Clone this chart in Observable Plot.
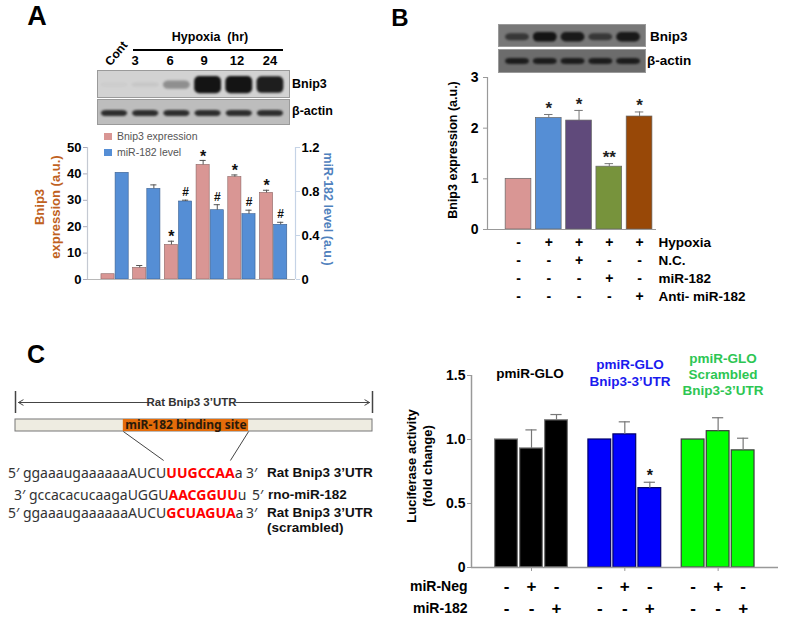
<!DOCTYPE html>
<html><head><meta charset="utf-8">
<script src="https://cdn.jsdelivr.net/npm/d3@7"></script>
<script src="https://cdn.jsdelivr.net/npm/@observablehq/plot@0.6"></script>
<style>
html,body{margin:0;padding:0;background:#fff;}
#fig{position:relative;width:787px;height:622px;overflow:hidden;background:#fff;}
</style></head>
<body><div id="fig"></div>
<script>
// ---------------- DATA ----------------
// Panel A
const hypoxiaHours = ["Cont", "3", "6", "9", "12", "24"];
const bnip3Expr   = [2.0, 4.4, 13.1, 43.4, 38.8, 32.8];
const bnip3Err    = [0, 0.9, 1.4, 1.7, 0.8, 1.0];
const mir182Level = [0.97, 0.824, 0.709, 0.63, 0.594, 0.497];
const mir182Err   = [0, 0.036, 0.012, 0.05, 0.036, 0.023];
const bnip3Sig    = ["", "", "*", "*", "*", "*"];
const mir182Sig   = ["", "", "#", "#", "#", "#"];
const leftTicksA  = [0, 10, 20, 30, 40, 50];
const rightTicksA = [0, 0.4, 0.8, 1.2];
const blotABnip3  = [0.03, 0.06, 0.35, 1, 1, 0.95];
const blotAActin  = [0.85, 0.85, 0.85, 0.85, 0.85, 0.85];
// Panel B
const condB     = ["Normoxia", "Hypoxia", "Hypoxia+N.C.", "Hypoxia+miR-182", "Hypoxia+Anti-miR-182"];
const bnip3B    = [1.0, 2.2, 2.15, 1.24, 2.23];
const bnip3BErr = [0, 0.07, 0.2, 0.06, 0.09];
const sigB      = ["", "*", "*", "**", "*"];
const ticksB    = [0, 1, 2, 3];
const rowsB     = ["Hypoxia", "N.C.", "miR-182", "Anti- miR-182"];
const hypoxiaB  = ["-", "+", "+", "+", "+"];
const ncB       = ["-", "-", "+", "-", "-"];
const mirB      = ["-", "-", "-", "+", "-"];
const antiB     = ["-", "-", "-", "-", "+"];
const blotBBnip3 = [0.65, 1, 0.95, 0.65, 0.95];
const blotBActin = [0.9, 0.9, 0.9, 0.9, 0.9];
// Panel C
const constructs = ["pmiR-GLO", "pmiR-GLO Bnip3-3’UTR", "pmiR-GLO Scrambled Bnip3-3’UTR"];
const treatments = ["Control", "miR-Neg", "miR-182"];
const lucControl = [1.0, 1.0, 1.0];
const lucMiRNeg  = [0.93, 1.04, 1.065];
const lucMiR182  = [1.15, 0.62, 0.915];
const errControl = [0, 0, 0];
const errMiRNeg  = [0.145, 0.098, 0.105];
const errMiR182  = [0.045, 0.046, 0.095];
const sigMiR182  = ["", "*", ""];
const ticksC     = [0, 0.5, 1.0, 1.5];
const rowsC      = ["miR-Neg", "miR-182"];
const miRNegRow  = ["-", "+", "-"];
const miR182Row  = ["-", "-", "+"];
const utrExtent  = [0, 1];
const siteExtent = [0.302, 0.653];
const siteToSeq  = [0.415, 0.602];
const seqUTR     = ["ggaaaugaaaaaaAUCU", "UUGCCAA", "a"];
const seqMiR     = ["gccacacucaagaUGGU", "AACGGUU", "u"];
const seqScr     = ["ggaaaugaaaaaaAUCU", "GCUAGUA", "a"];

// ---------------- HELPERS ----------------
const fig = document.getElementById("fig");
const FONT = '"Liberation Sans", Arial, sans-serif';
const PSTYLE = {fontFamily: FONT, fontSize: "13px", fontWeight: "bold", background: "transparent", overflow: "visible", color: "#000"};
function put(node, left, top) {
  node.style.position = "absolute"; node.style.left = left + "px"; node.style.top = top + "px";
  fig.appendChild(node); return node;
}
function txt(html, x, y, o = {}) {
  const d = document.createElement("div");
  d.innerHTML = html;
  const a = o.anchor || "middle";
  const tx = a === "start" ? "0" : a === "end" ? "-100%" : "-50%";
  Object.assign(d.style, {
    position: "absolute", left: x + "px", top: y + "px", whiteSpace: "nowrap",
    transform: `translate(${tx},-50%)` + (o.rot ? ` rotate(${o.rot}deg)` : ""),
    fontFamily: o.font || FONT, fontWeight: o.weight || "bold", fontSize: (o.size || 13) + "px",
    color: o.color || "#000", lineHeight: String(o.lh || 1.15), textAlign: "center", letterSpacing: (o.ls || 0) + "px"
  });
  fig.appendChild(d); return d;
}
function blot(values, {left, top, width, height, xDomain, bg, cy, h0, h1, halfW}) {
  const data = values.map((v, i) => ({i, v}));
  const svg = Plot.plot({
    width, height, margin: 0, style: PSTYLE,
    x: {domain: xDomain, axis: null}, y: {domain: [0, 1], axis: null},
    marks: [
      Plot.frame({fill: bg, stroke: "#9a9a9a"}),
      Plot.rect(data, {x1: d => d.i - halfW, x2: d => d.i + halfW,
        y1: d => cy - (h0 + h1 * d.v), y2: d => cy + (h0 + h1 * d.v),
        fill: "#141414", fillOpacity: d => d.v, rx: 5, imageFilter: "blur(0.8px)"})
    ]
  });
  return put(svg, left, top);
}

// ---------------- PANEL A ----------------
txt("A", 37, 17, {size: 27});
blot(blotABnip3, {left: 97, top: 70, width: 192, height: 27, xDomain: [-0.545, 5.61], bg: "#d2d2d2", cy: 0.46, h0: 0.06, h1: 0.26, halfW: 0.43});
blot(blotAActin, {left: 97, top: 99, width: 192, height: 25, xDomain: [-0.545, 5.61], bg: "#bdbdbd", cy: 0.44, h0: 0.02, h1: 0.12, halfW: 0.42});
txt("Hypoxia&nbsp; (hr)", 210, 37, {size: 12.5});
const lineA = document.createElement("div");
Object.assign(lineA.style, {position: "absolute", left: "133px", top: "49px", width: "150px", height: "2px", background: "#000"});
fig.appendChild(lineA);
txt(hypoxiaHours[0], 117, 54, {size: 12, rot: -50});
[135, 170, 204, 237, 270].forEach((x, k) => txt(hypoxiaHours[k + 1], x, 61, {size: 13}));
txt("Bnip3", 292, 84, {anchor: "start", size: 12.5});
txt("β-actin", 292, 111, {anchor: "start", size: 12.5});

// legend
[["Bnip3 expression", "#d99694", 136], ["miR-182 level", "#558ed5", 152]].forEach(([t, c, y]) => {
  const sq = document.createElement("div");
  Object.assign(sq.style, {position: "absolute", left: "104px", top: (y - 3.5) + "px", width: "8px", height: "7px", background: c});
  fig.appendChild(sq);
  txt(t, 117, y, {anchor: "start", size: 10.5, weight: "normal", color: "#555"});
});

const K = 50 / 1.2;
const dataA = hypoxiaHours.map((h, i) => ({
  i, b: bnip3Expr[i], be: bnip3Expr[i] + bnip3Err[i], bs: bnip3Sig[i],
  m: mir182Level[i] * K, me: (mir182Level[i] + mir182Err[i]) * K, ms: mir182Sig[i]
}));
put(Plot.plot({
  width: 340, height: 170, marginLeft: 87, marginRight: 45, marginTop: 17, marginBottom: 21, style: PSTYLE,
  x: {domain: [-0.87, 5.69], axis: null}, y: {domain: [0, 50], axis: null, label: null},
  marks: [
    Plot.rect(dataA, {x1: d => d.i - 0.43, x2: d => d.i - 0.016, y1: 0, y2: "b", fill: "#d99694", stroke: "#8c6664", strokeWidth: 0.6}),
    Plot.rect(dataA, {x1: d => d.i + 0.016, x2: d => d.i + 0.43, y1: 0, y2: "m", fill: "#558ed5", stroke: "#3b5f8f", strokeWidth: 0.6}),
    Plot.ruleX(dataA.filter(d => d.be > d.b), {x: d => d.i - 0.223, y1: "b", y2: "be", stroke: "#555"}),
    Plot.ruleY(dataA.filter(d => d.be > d.b), {y: "be", x1: d => d.i - 0.32, x2: d => d.i - 0.126, stroke: "#555"}),
    Plot.ruleX(dataA.filter(d => d.me > d.m), {x: d => d.i + 0.223, y1: "m", y2: "me", stroke: "#555"}),
    Plot.ruleY(dataA.filter(d => d.me > d.m), {y: "me", x1: d => d.i + 0.126, x2: d => d.i + 0.32, stroke: "#555"}),
    Plot.text(dataA, {x: d => d.i - 0.223, y: "be", text: "bs", dy: -4, fontSize: 16, fill: "#111"}),
    Plot.text(dataA, {x: d => d.i + 0.223, y: "me", text: "ms", dy: -8, fontSize: 12, fill: "#111"}),
    Plot.ruleY([0], {stroke: "#b8b8b8", strokeWidth: 1.2}),
    Plot.ruleX([-0.87], {stroke: "#c4c9d2", strokeWidth: 1.2}),
    Plot.ruleX([5.69], {stroke: "#c5d3e6", strokeWidth: 1.2}),
    Plot.axisY(leftTicksA, {anchor: "left", tickSize: 4, tickPadding: 2, stroke: "#aab", label: null}),
    Plot.axisY(rightTicksA.map(v => v * K), {anchor: "right", tickSize: 4, tickPadding: 2, stroke: "#c5d3e6", label: null,
      tickFormat: d => String(+(d / K).toFixed(1))})
  ]
}), 0, 130);
txt("Bnip3<br>expression (a.u.)", 48, 207, {rot: -90, size: 13, color: "#c0621f", lh: 1.25});
txt("miR-182 level (a.u.)", 328, 209, {rot: 90, size: 12.5, color: "#4f81bd"});

// ---------------- PANEL B ----------------
txt("B", 400, 18, {size: 24});
blot(blotBBnip3, {left: 498, top: 24, width: 147, height: 22, xDomain: [-0.685, 4.61], bg: "#787878", cy: 0.42, h0: 0.06, h1: 0.16, halfW: 0.43});
blot(blotBActin, {left: 498, top: 49, width: 147, height: 23, xDomain: [-0.685, 4.61], bg: "#6c6c6c", cy: 0.48, h0: 0.04, h1: 0.1, halfW: 0.43});
txt("Bnip3", 650, 37, {anchor: "start", size: 13.5});
txt("β-actin", 647, 61, {anchor: "start", size: 13.5});

const colorsB = ["#d99694", "#558ed5", "#604a7b", "#77933c", "#984807"];
const dataB = condB.map((c, i) => ({i, v: bnip3B[i], e: bnip3B[i] + bnip3BErr[i], s: sigB[i]}));
put(Plot.plot({
  width: 230, height: 180, marginLeft: 47, marginRight: 14, marginTop: 17, marginBottom: 11, style: PSTYLE,
  color: {type: "identity"},
  x: {domain: [-1.025, 4.56], axis: null}, y: {domain: [0, 3], axis: null, label: null},
  marks: [
    Plot.rect(dataB, {x1: d => d.i - 0.425, x2: d => d.i + 0.425, y1: 0, y2: "v", fill: d => colorsB[d.i], stroke: "#666", strokeWidth: 0.7}),
    Plot.ruleX(dataB.filter(d => d.e > d.v), {x: "i", y1: "v", y2: "e", stroke: "#777"}),
    Plot.ruleY(dataB.filter(d => d.e > d.v), {y: "e", x1: d => d.i - 0.14, x2: d => d.i + 0.14, stroke: "#777"}),
    Plot.text(dataB, {x: "i", y: "e", text: "s", dy: -6, fontSize: 17, fill: "#222"}),
    Plot.ruleY([0], {stroke: "#999", strokeWidth: 1.2}),
    Plot.ruleX([-1.025], {stroke: "#999", strokeWidth: 1.2}),
    Plot.axisY(ticksB, {anchor: "left", tickSize: 4, tickPadding: 5, stroke: "#999", fontSize: 14, label: null,
      tickFormat: d => String(d)})
  ]
}), 440, 60);
txt("Bnip3 expression (a.u.)", 453, 150, {rot: -90, size: 12.5});

const tableB = [];
[hypoxiaB, ncB, mirB, antiB].forEach((row, r) => row.forEach((s, i) => tableB.push({i, row: rowsB[r], s})));
put(Plot.plot({
  width: 330, height: 75, marginLeft: 47, marginRight: 114, marginTop: 0, marginBottom: 0, style: PSTYLE,
  x: {domain: [-1.025, 4.56], axis: null}, y: {type: "point", domain: rowsB, range: [9, 64], padding: 0, axis: null},
  marks: [
    Plot.text(tableB, {x: "i", y: "row", text: "s", fontSize: 14}),
    Plot.text(rowsB, {frameAnchor: "right", y: d => d, text: d => d, dx: 2, textAnchor: "start", fontSize: 13.5})
  ]
}), 440, 232);

// ---------------- PANEL C ----------------
txt("C", 36, 354, {size: 25});
put(Plot.plot({
  width: 390, height: 80, marginLeft: 15, marginRight: 18, marginTop: 0, marginBottom: 0, style: PSTYLE,
  x: {domain: utrExtent, axis: null}, y: {domain: [0, 1], range: [75, 17], axis: null},
  marks: [
    Plot.ruleX(utrExtent, {y1: 0.81, y2: 1.19, stroke: "#444", strokeWidth: 1.5}),
    Plot.arrow([[0.37, 0], [0.617, 1]], {x1: d => d[0], x2: d => d[1], y1: 1, y2: 1, stroke: "#444", strokeWidth: 1, headLength: 8, insetEnd: 3}),
    Plot.text(["Rat Bnip3 3’UTR"], {x: 0.493, y: 1, text: d => d, fontSize: 11.5, fill: "#333"}),
    Plot.rect([utrExtent], {x1: d => d[0], x2: d => d[1], y1: 0.5, y2: 0.707, fill: "#eeece1", stroke: "#777"}),
    Plot.rect([siteExtent], {x1: d => d[0], x2: d => d[1], y1: 0.5, y2: 0.707, fill: "#e46c0a"}),
    Plot.text(["miR-182 binding site"], {x: (siteExtent[0] + siteExtent[1]) / 2, y: 0.61, text: d => d, fontSize: 12, fill: "#2a1a0a", fontFamily: '"Noto Sans", sans-serif'}),
    Plot.link([[siteExtent[0], siteToSeq[0]], [siteExtent[1], siteToSeq[1]]], {x1: d => d[0], x2: d => d[1], y1: 0.5, y2: 0, stroke: "#444"})
  ]
}), 0, 385);

const SEQ = {anchor: "start", weight: "normal", font: '"Noto Sans", sans-serif', size: 14, color: "#333"};
const red = s => `<span style="color:#ff0000;font-weight:bold">${s}</span>`;
txt(`5′ ${seqUTR[0]}${red(seqUTR[1])}${seqUTR[2]}`, 8, 473, SEQ);
txt("3′", 246, 473, SEQ);
txt("Rat Bnip3 3’UTR", 267, 473, {anchor: "start", size: 13.5, color: "#111"});
txt(`3′ ${seqMiR[0]}${red(seqMiR[1])}${seqMiR[2]}`, 14, 495, SEQ);
txt("5′", 252, 495, SEQ);
txt("rno-miR-182", 268, 495, {anchor: "start", size: 13.5, color: "#111"});
txt(`5′ ${seqScr[0]}${red(seqScr[1])}${seqScr[2]}`, 8, 513, SEQ);
txt("3′", 246, 513, SEQ);
txt("Rat Bnip3 3’UTR", 267, 513, {anchor: "start", size: 13.5, color: "#111"});
txt("(scrambled)", 267, 528, {anchor: "start", size: 13.5, color: "#111"});

const colorsC = ["#000000", "#0000ff", "#00ff00"];
const strokeC = ["#777777", "#00006a", "#3a3a3a"];
const lucVals = [lucControl, lucMiRNeg, lucMiR182];
const lucErrs = [errControl, errMiRNeg, errMiR182];
const dataC = [];
constructs.forEach((c, g) => treatments.forEach((t, j) => dataC.push({
  g, j, x: g + (j - 1) * 0.268, v: lucVals[j][g], e: lucVals[j][g] + lucErrs[j][g], s: j === 2 ? sigMiR182[g] : ""
})));
put(Plot.plot({
  width: 387, height: 225, marginLeft: 71, marginRight: 9, marginTop: 20, marginBottom: 13, style: PSTYLE,
  color: {type: "identity"},
  x: {domain: [-0.643, 2.647], axis: null}, y: {domain: [0, 1.5], axis: null, label: null},
  marks: [
    Plot.rect(dataC, {x1: d => d.x - 0.122, x2: d => d.x + 0.122, y1: 0, y2: "v", fill: d => colorsC[d.g], stroke: d => strokeC[d.g], strokeWidth: 1.2}),
    Plot.ruleX(dataC.filter(d => d.e > d.v), {x: "x", y1: "v", y2: "e", stroke: "#777", strokeWidth: 1.2}),
    Plot.ruleY(dataC.filter(d => d.e > d.v), {y: "e", x1: d => d.x - 0.06, x2: d => d.x + 0.06, stroke: "#777", strokeWidth: 1.2}),
    Plot.text(dataC, {x: "x", y: "e", text: "s", dy: -6, fontSize: 16, fill: "#111"}),
    Plot.ruleY([0], {stroke: "#999", strokeWidth: 1.5}),
    Plot.ruleX([-0.643], {stroke: "#999", strokeWidth: 1.5}),
    Plot.axisY(ticksC, {anchor: "left", tickSize: 4, tickPadding: 2, stroke: "#999", label: null, fontSize: 14,
      tickFormat: d => d === 0 ? "0" : d.toFixed(1)}),
    Plot.axisX([0, 1, 2], {anchor: "bottom", tickSize: 4, stroke: "#999", label: null, tickFormat: () => ""})
  ]
}), 400, 355);
txt("Luciferase activity<br>(fold change)", 420, 466, {rot: -90, size: 13, lh: 1.2});
txt("pmiR-GLO", 530, 374, {size: 13.5, color: "#000"});
txt("pmiR-GLO<br>Bnip3-3’UTR", 630, 374, {size: 13.5, color: "#1a1aee", lh: 1.25});
txt("pmiR-GLO<br>Scrambled<br>Bnip3-3’UTR", 723, 375, {size: 13.5, color: "#2dc653", lh: 1.2});

const tableC = [];
[miRNegRow, miR182Row].forEach((row, r) => constructs.forEach((c, g) => row.forEach((s, j) => tableC.push({x: g + (j - 1) * 0.268, row: rowsC[r], s}))));
put(Plot.plot({
  width: 387, height: 45, marginLeft: 71, marginRight: 9, marginTop: 0, marginBottom: 0, style: PSTYLE,
  x: {domain: [-0.643, 2.647], axis: null}, y: {type: "point", domain: rowsC, range: [11, 33], padding: 0, axis: null},
  marks: [
    Plot.text(tableC, {x: "x", y: "row", text: "s", fontSize: 17}),
    Plot.text(rowsC, {frameAnchor: "left", y: d => d, text: d => d, dx: -4, textAnchor: "end", fontSize: 14})
  ]
}), 400, 575);
</script></body></html>
